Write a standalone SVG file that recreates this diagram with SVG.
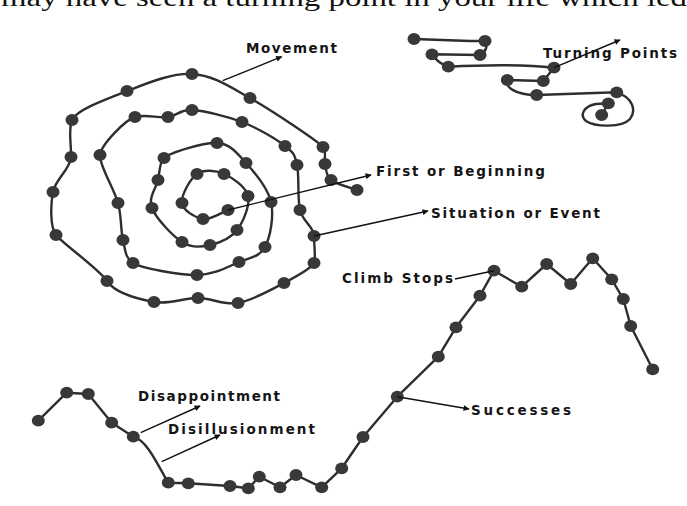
<svg xmlns="http://www.w3.org/2000/svg" width="687" height="506" viewBox="0 0 687 506">
  <defs>
    <marker id="arrow" viewBox="0 0 10 10" refX="9" refY="5" markerWidth="7" markerHeight="6" markerUnits="userSpaceOnUse" orient="auto">
      <path d="M0,0 L10,5 L0,10 Z" fill="#111"/>
    </marker>
    <style>
      .trail { fill: none; stroke: #2e2e2e; stroke-width: 2.4; stroke-linejoin: round; stroke-linecap: round; }
      .dot { fill: #383838; }
      .lead { fill: none; stroke: #111; stroke-width: 1.4; }
      .lbl { font-family: "DejaVu Sans", "Liberation Sans", sans-serif; font-weight: bold; font-size: 13.5px; fill: #151515; }
      .body { font-family: "Liberation Serif", "Times New Roman", serif; font-size: 26px; fill: #111; }
    </style>
  </defs>

  <rect width="687" height="506" fill="#ffffff"/>

  <!-- running text, cut at the top edge -->
  <text class="body" x="1" y="5.5" textLength="686" lengthAdjust="spacingAndGlyphs">may have seen a turning point in your life which led</text>

  <!-- spiral: from the first event outward -->
  <g id="spiral">
    <path class="trail" d="M228,210 C223.8,211.5 210.7,220.2 203,219 C195.3,217.8 183,210.5 182,203 C181,195.5 190,178.8 197,174 C204,169.2 215.5,170.3 224,174 C232.5,177.7 245.8,186.7 248,196 C250.2,205.3 243.3,221.8 237,230 C230.7,238.2 219.2,243 210,245 C200.8,247 191.7,248.2 182,242 C172.3,235.8 156,218.3 152,208 C148,197.7 156,188.3 158,180 C160,171.7 159,163 164,158 C169,153 203.3,142.2 217,143 C230.7,143.8 237,153.2 246,163 C255,172.8 267.8,188 271,202 C274.2,216 270.3,237 265,247 C259.7,257 250.3,257.3 239,262 C227.7,266.7 214.7,274.8 197,275 C179.3,275.2 141,268 133,263 C125,258 125.5,250 123,240 C120.5,230 121.8,217.2 118,203 C114.2,188.8 99,165 100,155 C101,145 125,120 135,117 C145,114 158.5,118.2 168,117 C177.5,115.8 179.7,109.2 192,110 C204.3,110.8 226.5,116 242,122 C257.5,128 275.8,138.8 285,146 C294.2,153.2 294.5,154.3 297,165 C299.5,175.7 297.2,198.2 300,210 C302.8,221.8 314,227 314,236 C314,245 316,258 314,263 C312,268 296.7,276.3 284,283 C271.3,289.7 252.3,300.5 238,303 C223.7,305.5 212,298.2 198,298 C184,297.8 169.2,304.8 154,302 C138.8,299.2 115,293 107,281 C99,269 62,243 56,235 C50,227 50.5,205 53,192 C55.5,179 70.5,169 71,157 C71.5,145 68,130 72,120 C76,110 107,98.7 127,91 C147,83.3 171.5,72.8 192,74 C212.5,75.2 228.2,85.8 250,98 C271.8,110.2 319,142 323,147 C327,152 323.7,158.5 325,164 C326.3,169.5 325.7,175.7 331,180 C336.3,184.3 352.7,188.3 357,190"/>
    <g class="dot">
      <ellipse cx="228" cy="210" rx="6.5" ry="5.9"/>
      <ellipse cx="203" cy="219" rx="6.5" ry="5.9"/>
      <ellipse cx="182" cy="203" rx="6.5" ry="5.9"/>
      <ellipse cx="197" cy="174" rx="6.5" ry="5.9"/>
      <ellipse cx="224" cy="174" rx="6.5" ry="5.9"/>
      <ellipse cx="248" cy="196" rx="6.5" ry="5.9"/>
      <ellipse cx="237" cy="230" rx="6.5" ry="5.9"/>
      <ellipse cx="210" cy="245" rx="6.5" ry="5.9"/>
      <ellipse cx="182" cy="242" rx="6.5" ry="5.9"/>
      <ellipse cx="152" cy="208" rx="6.5" ry="5.9"/>
      <ellipse cx="158" cy="180" rx="6.5" ry="5.9"/>
      <ellipse cx="164" cy="158" rx="6.5" ry="5.9"/>
      <ellipse cx="217" cy="143" rx="6.5" ry="5.9"/>
      <ellipse cx="246" cy="163" rx="6.5" ry="5.9"/>
      <ellipse cx="271" cy="202" rx="6.5" ry="5.9"/>
      <ellipse cx="265" cy="247" rx="6.5" ry="5.9"/>
      <ellipse cx="239" cy="262" rx="6.5" ry="5.9"/>
      <ellipse cx="197" cy="275" rx="6.5" ry="5.9"/>
      <ellipse cx="133" cy="263" rx="6.5" ry="5.9"/>
      <ellipse cx="123" cy="240" rx="6.5" ry="5.9"/>
      <ellipse cx="118" cy="203" rx="6.5" ry="5.9"/>
      <ellipse cx="100" cy="155" rx="6.5" ry="5.9"/>
      <ellipse cx="135" cy="117" rx="6.5" ry="5.9"/>
      <ellipse cx="168" cy="117" rx="6.5" ry="5.9"/>
      <ellipse cx="192" cy="110" rx="6.5" ry="5.9"/>
      <ellipse cx="242" cy="122" rx="6.5" ry="5.9"/>
      <ellipse cx="285" cy="146" rx="6.5" ry="5.9"/>
      <ellipse cx="297" cy="165" rx="6.5" ry="5.9"/>
      <ellipse cx="300" cy="210" rx="6.5" ry="5.9"/>
      <ellipse cx="314" cy="236" rx="6.5" ry="5.9"/>
      <ellipse cx="314" cy="263" rx="6.5" ry="5.9"/>
      <ellipse cx="284" cy="283" rx="6.5" ry="5.9"/>
      <ellipse cx="238" cy="303" rx="6.5" ry="5.9"/>
      <ellipse cx="198" cy="298" rx="6.5" ry="5.9"/>
      <ellipse cx="154" cy="302" rx="6.5" ry="5.9"/>
      <ellipse cx="107" cy="281" rx="6.5" ry="5.9"/>
      <ellipse cx="56" cy="235" rx="6.5" ry="5.9"/>
      <ellipse cx="53" cy="192" rx="6.5" ry="5.9"/>
      <ellipse cx="71" cy="157" rx="6.5" ry="5.9"/>
      <ellipse cx="72" cy="120" rx="6.5" ry="5.9"/>
      <ellipse cx="127" cy="91" rx="6.5" ry="5.9"/>
      <ellipse cx="192" cy="74" rx="6.5" ry="5.9"/>
      <ellipse cx="250" cy="98" rx="6.5" ry="5.9"/>
      <ellipse cx="323" cy="147" rx="6.5" ry="5.9"/>
      <ellipse cx="325" cy="164" rx="6.5" ry="5.9"/>
      <ellipse cx="331" cy="180" rx="6.5" ry="5.9"/>
      <ellipse cx="357" cy="190" rx="6.5" ry="5.9"/>
    </g>
  </g>

  <!-- zig-zag trail with turning points -->
  <g id="turning">
    <path class="trail" d="M414,39 L470,41 L485,41 C488,46 486,52 480,55 L432,54.3 C436,60 442,65 448.3,66.7 C480,65 520,64 554,67.7 L543.3,81 L507.3,80 C505,87 515,95 536.7,95 L616.7,92.3 C632,97 637,110 630,119 C622,128 595,127 586,121 C579,115 584,106 596,104 L608.3,103.3 L601.7,115"/>
    <g class="dot">
      <ellipse cx="414" cy="39" rx="6.5" ry="5.9"/>
      <ellipse cx="485" cy="41" rx="6.5" ry="5.9"/>
      <ellipse cx="480" cy="55" rx="6.5" ry="5.9"/>
      <ellipse cx="432" cy="54.3" rx="6.5" ry="5.9"/>
      <ellipse cx="448.3" cy="66.7" rx="6.5" ry="5.9"/>
      <ellipse cx="554" cy="67.7" rx="6.5" ry="5.9"/>
      <ellipse cx="543.3" cy="81" rx="6.5" ry="5.9"/>
      <ellipse cx="507.3" cy="80" rx="6.5" ry="5.9"/>
      <ellipse cx="536.7" cy="95" rx="6.5" ry="5.9"/>
      <ellipse cx="616.7" cy="92.3" rx="6.5" ry="5.9"/>
      <ellipse cx="608.3" cy="103.3" rx="6.5" ry="5.9"/>
      <ellipse cx="601.7" cy="115" rx="6.5" ry="5.9"/>
    </g>
  </g>

  <!-- ups and downs curve -->
  <g id="curve">
    <path class="trail" d="M38.3,420.7 L66.7,392.7 L88.3,394 L111.7,422.7 L133.3,436.7 C148,441 158,466 168.3,482.7 L188.3,483.3 L230,486 L248.3,488.3 L259.3,476.7 L280,487.3 L296,475 L321.7,487.3 L341.7,468.3 L363,437 L397.3,396.7 L438.3,356.7 L456,327.3 L480,295.7 L494,270.7 L521.7,286.7 L546.7,264 L570.7,284 L592.7,258.3 L611.7,279.3 L623.3,299 L630.7,326 L652.7,369.3"/>
    <g class="dot">
      <ellipse cx="38.3" cy="420.7" rx="6.5" ry="5.9"/>
      <ellipse cx="66.7" cy="392.7" rx="6.5" ry="5.9"/>
      <ellipse cx="88.3" cy="394" rx="6.5" ry="5.9"/>
      <ellipse cx="111.7" cy="422.7" rx="6.5" ry="5.9"/>
      <ellipse cx="133.3" cy="436.7" rx="6.5" ry="5.9"/>
      <ellipse cx="168.3" cy="482.7" rx="6.5" ry="5.9"/>
      <ellipse cx="188.3" cy="483.3" rx="6.5" ry="5.9"/>
      <ellipse cx="230" cy="486" rx="6.5" ry="5.9"/>
      <ellipse cx="248.3" cy="488.3" rx="6.5" ry="5.9"/>
      <ellipse cx="259.3" cy="476.7" rx="6.5" ry="5.9"/>
      <ellipse cx="280" cy="487.3" rx="6.5" ry="5.9"/>
      <ellipse cx="296" cy="475" rx="6.5" ry="5.9"/>
      <ellipse cx="321.7" cy="487.3" rx="6.5" ry="5.9"/>
      <ellipse cx="341.7" cy="468.3" rx="6.5" ry="5.9"/>
      <ellipse cx="363" cy="437" rx="6.5" ry="5.9"/>
      <ellipse cx="397.3" cy="396.7" rx="6.5" ry="5.9"/>
      <ellipse cx="438.3" cy="356.7" rx="6.5" ry="5.9"/>
      <ellipse cx="456" cy="327.3" rx="6.5" ry="5.9"/>
      <ellipse cx="480" cy="295.7" rx="6.5" ry="5.9"/>
      <ellipse cx="494" cy="270.7" rx="6.5" ry="5.9"/>
      <ellipse cx="521.7" cy="286.7" rx="6.5" ry="5.9"/>
      <ellipse cx="546.7" cy="264" rx="6.5" ry="5.9"/>
      <ellipse cx="570.7" cy="284" rx="6.5" ry="5.9"/>
      <ellipse cx="592.7" cy="258.3" rx="6.5" ry="5.9"/>
      <ellipse cx="611.7" cy="279.3" rx="6.5" ry="5.9"/>
      <ellipse cx="623.3" cy="299" rx="6.5" ry="5.9"/>
      <ellipse cx="630.7" cy="326" rx="6.5" ry="5.9"/>
      <ellipse cx="652.7" cy="369.3" rx="6.5" ry="5.9"/>
    </g>
  </g>

  <!-- leader lines -->
  <g id="connectors">
    <path class="lead" d="M222.7,80.7 L281.7,56.7" marker-end="url(#arrow)"/>
    <path class="lead" d="M554,67.7 L620,40" marker-end="url(#arrow)"/>
    <path class="lead" d="M228,210 L371,175" marker-end="url(#arrow)"/>
    <path class="lead" d="M314,236 L428,211" marker-end="url(#arrow)"/>
    <path class="lead" d="M455,279 L494,270.7"/>
    <path class="lead" d="M397.3,396.7 L469,409" marker-end="url(#arrow)"/>
    <path class="lead" d="M140.7,432.7 L200,406" marker-end="url(#arrow)"/>
    <path class="lead" d="M161.7,461.7 L220,435" marker-end="url(#arrow)"/>
  </g>

  <g id="label-movement"><text class="lbl" x="246" y="53" textLength="91" lengthAdjust="spacing">Movement</text></g>
  <g id="label-turning"><text class="lbl" x="543" y="57.5" textLength="134" lengthAdjust="spacing">Turning Points</text></g>
  <g id="label-first"><text class="lbl" x="376" y="176" textLength="169" lengthAdjust="spacing">First or Beginning</text></g>
  <g id="label-situation"><text class="lbl" x="431" y="218" textLength="169" lengthAdjust="spacing">Situation or Event</text></g>
  <g id="label-climb"><text class="lbl" x="342" y="283" textLength="111" lengthAdjust="spacing">Climb Stops</text></g>
  <g id="label-successes"><text class="lbl" x="471" y="415" textLength="100" lengthAdjust="spacing">Successes</text></g>
  <g id="label-disappointment"><text class="lbl" x="138" y="401" textLength="142" lengthAdjust="spacing">Disappointment</text></g>
  <g id="label-disillusionment"><text class="lbl" x="168" y="434" textLength="147" lengthAdjust="spacing">Disillusionment</text></g>
</svg>
